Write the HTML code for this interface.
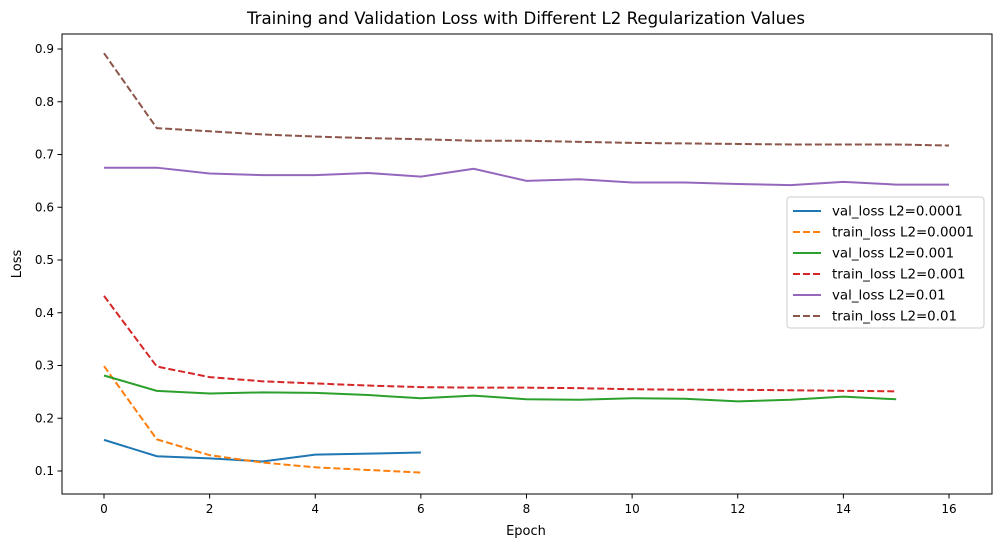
<!DOCTYPE html>
<html><head><meta charset="utf-8"><style>
body{margin:0;background:#fff;}
svg text{font-family:"DejaVu Sans","Liberation Sans",sans-serif;fill:#000;}
</style></head><body>
<svg id="chart" width="1001" height="547" viewBox="0 0 1001 547">
<text x="526" y="24" font-size="16.6" text-anchor="middle">Training and Validation Loss with Different L2 Regularization Values</text>
<g id="grid"></g>
<g id="series"></g>
<rect x="62" y="34" width="930" height="460" fill="none" stroke="#000" stroke-width="1"/>
<text x="526" y="535" font-size="13" text-anchor="middle">Epoch</text>
<text x="21" y="264" font-size="13" text-anchor="middle" transform="rotate(-90 21 264)">Loss</text>
<g id="legend"></g>
</svg>
<script>
const xTicks=[0,2,4,6,8,10,12,14,16];
const yTicks=[0.1,0.2,0.3,0.4,0.5,0.6,0.7,0.8,0.9];
const seriesNames=["val_loss L2=0.0001","train_loss L2=0.0001","val_loss L2=0.001","train_loss L2=0.001","val_loss L2=0.01","train_loss L2=0.01"];
const valLoss00001=[0.159,0.128,0.124,0.118,0.131,0.133,0.135];
const trainLoss00001=[0.299,0.160,0.130,0.116,0.107,0.102,0.097];
const valLoss0001=[0.281,0.252,0.247,0.249,0.248,0.244,0.238,0.243,0.236,0.235,0.238,0.237,0.232,0.235,0.241,0.236];
const trainLoss0001=[0.432,0.298,0.278,0.270,0.266,0.262,0.259,0.258,0.258,0.257,0.255,0.254,0.254,0.253,0.252,0.251];
const valLoss001=[0.675,0.675,0.664,0.661,0.661,0.665,0.658,0.673,0.650,0.653,0.647,0.647,0.644,0.642,0.648,0.643,0.643];
const trainLoss001=[0.892,0.750,0.744,0.738,0.734,0.731,0.729,0.726,0.726,0.724,0.722,0.721,0.720,0.719,0.719,0.719,0.717];

const NS="http://www.w3.org/2000/svg";
const xS=v=>104+v*(949-104)/16;
const yS=v=>49+(0.9-v)*527.5;
const mk=(t,a,p)=>{const e=document.createElementNS(NS,t);for(const k in a)e.setAttribute(k,a[k]);p.appendChild(e);return e;};
const grid=document.getElementById('grid');
xTicks.forEach(t=>{
  const l=mk('line',{x1:xS(t),x2:xS(t),y1:494,y2:498.5,stroke:'#000'},grid);
  
  
  const tx=mk('text',{x:xS(t),y:513,'font-size':12,'text-anchor':'middle'},grid);tx.textContent=t;
  
  
});
yTicks.forEach(t=>{
  const l=mk('line',{x1:57.5,x2:62,y1:yS(t),y2:yS(t),stroke:'#000'},grid);
  
  
  const tx=mk('text',{x:54,y:yS(t)+4,'font-size':12,'text-anchor':'end'},grid);tx.textContent=t.toFixed(1);
  
  
});
const data=[valLoss00001,trainLoss00001,valLoss0001,trainLoss0001,valLoss001,trainLoss001];
const colors=['#1f77b4','#ff7f0e','#2ca02c','#d62728','#9467bd','#8c564b'];
const sg=document.getElementById('series');
data.forEach((d,i)=>{
  const dash=i%2===1;
  const p=mk('polyline',{points:d.map((v,j)=>xS(j)+','+yS(v)).join(' '),fill:'none',stroke:colors[i],'stroke-width':2,'stroke-dasharray':dash?'7,3':'none'},sg);
  
  
});
const lg=document.getElementById('legend');
const box=mk('rect',{x:787,y:197,width:197,height:131,rx:3,fill:'#fff','fill-opacity':0.8,stroke:'#ccc'},lg);


seriesNames.forEach((n,i)=>{
  const y=211+i*21;
  const l=mk('line',{x1:793,x2:821,y1:y,y2:y,stroke:colors[i],'stroke-width':2,'stroke-dasharray':i%2?'7,3':'none'},lg);
  
  
  const t=mk('text',{x:832,y:y+4.5,'font-size':13.4},lg);t.textContent=n;
  
  
});
</script>
</body></html>
